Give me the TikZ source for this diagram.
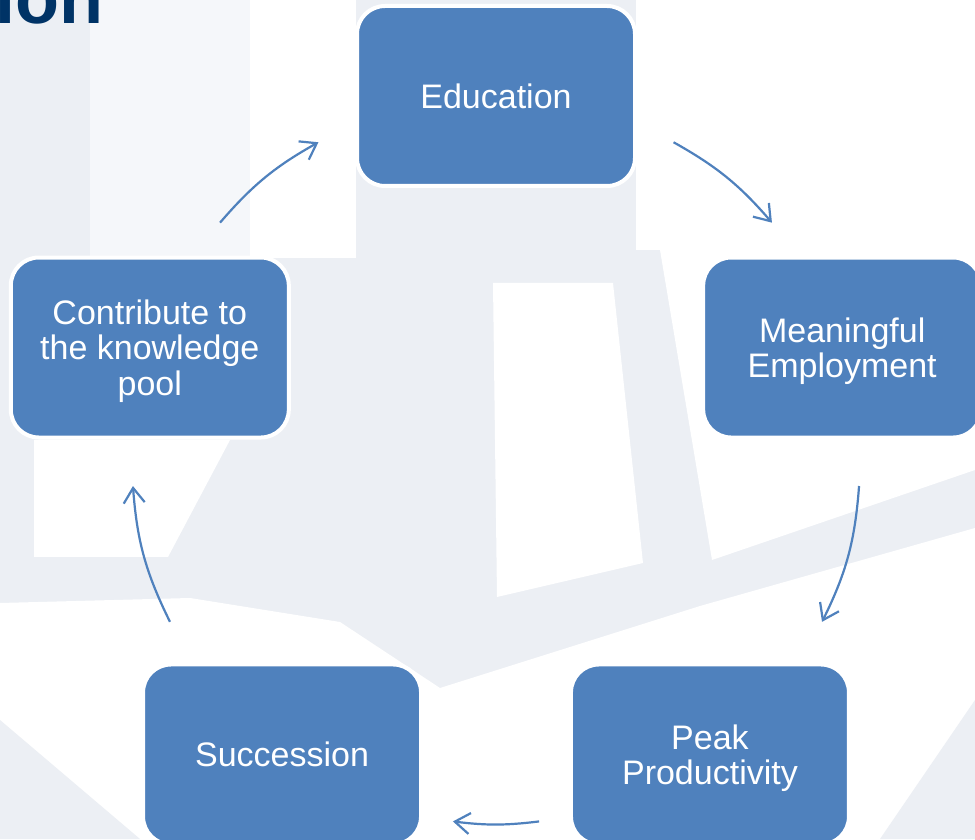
\documentclass[tikz,border=0pt]{standalone}
\usepackage{fontspec}
\setmainfont{Liberation Sans}
\usetikzlibrary{arrows.meta}

\definecolor{stagefill}{RGB}{79,129,189}
\definecolor{titlenavy}{RGB}{0,51,102}
\definecolor{photogray}{RGB}{236,239,244}
\definecolor{photolight}{RGB}{245,247,250}

\tikzset{
	stage/.style={draw=white, line width=4pt, fill=stagefill, rounded corners=28pt,
		minimum width=278pt, minimum height=180pt, inner sep=0pt, align=center,
		text depth=0pt, text=white, font=\fontsize{34}{35.5}\selectfont},
	cyclearrow/.style={draw=stagefill, line width=2.2pt,
		-{Straight Barb[length=15pt, width=21pt]}},
	photo/.style={fill=white},
	photohalf/.style={fill=photolight}
}

\begin{document}
\begin{tikzpicture}[x=1pt, y=1pt]
	\useasboundingbox (0,0) rectangle (975,839);
	\clip (0,0) rectangle (975,839);
	
	% faded photo behind the cycle
	\fill[photogray] (0,0) rectangle (975,839);
	\begin{scope}[shift={(0,839)}, yscale=-1]
		\fill[photohalf] (90,0) -- (250,0) -- (250,258) -- (90,258) -- cycle;
		\fill[photo] (250,0) -- (356,0) -- (356,258) -- (250,258) -- cycle;
		\fill[photo] (636,0) -- (975,0) -- (975,470) -- (712,560) -- (660,250) -- (636,250) -- cycle;
		\fill[photo] (493,283) -- (613,283) -- (643,563) -- (497,597) -- cycle;
		\fill[photo] (34,440) -- (230,440) -- (168,557) -- (34,557) -- cycle;
		\fill[photo] (0,603) -- (190,598) -- (340,622) -- (440,688) -- (700,606) -- (975,528) -- (975,839) -- (0,839) -- cycle;
		\fill[photogray] (0,720) -- (140,839) -- (0,839) -- cycle;
		\fill[photogray] (975,700) -- (975,839) -- (880,839) -- cycle;
	\end{scope}
	
	% title fragment
	\node[anchor=base east, inner sep=0pt, text=titlenavy,
		font=\fontsize{72}{72}\selectfont\bfseries] (title) at (104,815) {ion};
	
	% the cycle
	\coordinate (cyc) at (496,379);
	\node[stage] (edu) at ([shift={(90:364)}]cyc) {Education};
	\node[stage] (emp) at ([shift={(18:364)}]cyc) {Meaningful\\Employment};
	\node[stage] (peak) at ([shift={(-54:364)}]cyc) {Peak\\Productivity};
	\node[stage] (succ) at ([shift={(-126:364)}]cyc) {Succession};
	\node[stage] (pool) at ([shift={(162:364)}]cyc) {Contribute to\\the knowledge\\pool};
	
	\coordinate (edu-out) at ([shift={(60.8:364)}]cyc);
	\coordinate (emp-in) at ([shift={(40.7:364)}]cyc);
	\coordinate (emp-out) at ([shift={(-4.1:364)}]cyc);
	\coordinate (peak-in) at ([shift={(-26.4:364)}]cyc);
	\coordinate (peak-out) at ([shift={(-83.2:364)}]cyc);
	\coordinate (succ-in) at ([shift={(-96.8:364)}]cyc);
	\coordinate (succ-out) at ([shift={(206.4:364)}]cyc);
	\coordinate (pool-in) at ([shift={(184.1:364)}]cyc);
	\coordinate (pool-out) at ([shift={(139.3:364)}]cyc);
	\coordinate (edu-in) at ([shift={(119.2:364)}]cyc);
	
	\draw[cyclearrow] (edu-out) to[bend left=10] (emp-in);
	\draw[cyclearrow] (emp-out) to[bend left=11] (peak-in);
	\draw[cyclearrow] (peak-out) to[bend left=7] (succ-in);
	\draw[cyclearrow] (succ-out) to[bend left=11] (pool-in);
	\draw[cyclearrow] (pool-out) to[bend left=10] (edu-in);
\end{tikzpicture}
\end{document}
